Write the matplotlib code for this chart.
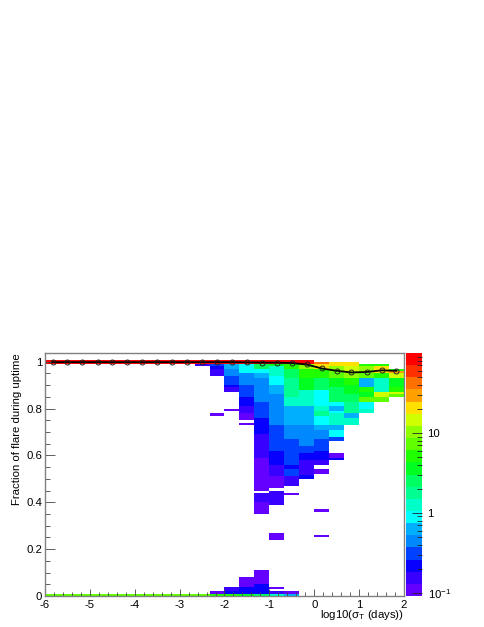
from matplotlib import pyplot as plt
from matplotlib.colors import ListedColormap, LogNorm
from matplotlib.ticker import MultipleLocator, FixedLocator, NullFormatter
import numpy as np

plt.rcParams['font.family'] = ['Liberation Sans', 'DejaVu Sans']
plt.rcParams['mathtext.default'] = 'regular'
plt.rcParams['axes.unicode_minus'] = False

# ROOT rainbow palette, 20 contours
palette = ['#6400ff', '#3800ff', '#0800ff', '#0040ff', '#0088ff', '#00b0ff', '#00ffff', '#00ffc8',
           '#00ff90', '#00ff60', '#00ff20', '#20ff00', '#60ff00', '#90ff00', '#d0ff00', '#ffe000',
           '#ffa000', '#ff7000', '#ff3000', '#ff0000']

# mean fraction vs log10(sigma_T)
profile_x = [-5.83, -5.5, -5.17, -4.83, -4.5, -4.17, -3.83, -3.5, -3.17, -2.83, -2.5, -2.17,
             -1.83, -1.5, -1.17, -0.83, -0.5, -0.17, 0.17, 0.5, 0.83, 1.17, 1.5, 1.83]
profile_y = [0.998, 0.998, 0.998, 0.998, 0.998, 0.998, 0.998, 0.998, 0.998, 0.998, 0.998, 0.998,
             0.998, 0.997, 0.996, 0.996, 0.994, 0.988, 0.971, 0.961, 0.954, 0.956, 0.963, 0.961]

# cells per column: (y high, y low, content), x bin width 1/3 from -6
col_10 = [(0.99, 0.98, 0.15)]
col_11 = [(0.99, 0.98, 0.31), (0.98, 0.97, 0.22), (0.97, 0.94, 0.15), (0.78, 0.77, 0.11),
          (0.02, 0.01, 0.11)]
col_12 = [(0.99, 0.97, 0.62), (0.97, 0.94, 0.43), (0.94, 0.90, 0.31), (0.90, 0.89, 0.22),
          (0.89, 0.87, 0.13), (0.80, 0.79, 0.11), (0.04, 0.02, 0.15), (0.02, 0.01, 0.25)]
col_13 = [(0.99, 0.95, 0.95), (0.95, 0.90, 0.43), (0.90, 0.85, 0.31), (0.85, 0.81, 0.22),
          (0.81, 0.78, 0.15), (0.78, 0.75, 0.11), (0.74, 0.73, 0.11), (0.08, 0.04, 0.11),
          (0.04, 0.01, 0.22)]
col_14 = [(0.99, 0.97, 2.5), (0.97, 0.95, 0.87), (0.95, 0.93, 0.62), (0.93, 0.88, 0.5),
          (0.88, 0.83, 0.43), (0.83, 0.76, 0.31), (0.76, 0.69, 0.22), (0.69, 0.65, 0.15),
          (0.65, 0.61, 0.15), (0.61, 0.59, 0.13), (0.59, 0.45, 0.12), (0.44, 0.40, 0.15),
          (0.40, 0.35, 0.11), (0.11, 0.05, 0.11), (0.05, 0.01, 0.22)]
col_15 = [(0.99, 0.98, 3.5), (0.98, 0.94, 1.2), (0.94, 0.90, 0.87), (0.90, 0.86, 0.62),
          (0.86, 0.79, 0.5), (0.79, 0.73, 0.43), (0.73, 0.67, 0.31), (0.67, 0.62, 0.31),
          (0.62, 0.56, 0.22), (0.56, 0.51, 0.15), (0.51, 0.46, 0.11), (0.45, 0.44, 0.15),
          (0.44, 0.39, 0.13), (0.27, 0.24, 0.11), (0.04, 0.03, 0.11), (0.02, 0.01, 0.15)]
col_16 = [(0.99, 0.97, 5.0), (0.97, 0.93, 2.5), (0.93, 0.85, 1.8), (0.85, 0.81, 1.2),
          (0.81, 0.78, 0.62), (0.78, 0.73, 0.62), (0.73, 0.67, 0.43), (0.67, 0.61, 0.31),
          (0.61, 0.56, 0.31), (0.56, 0.54, 0.22), (0.54, 0.51, 0.31), (0.51, 0.47, 0.13),
          (0.44, 0.43, 0.11), (0.02, 0.01, 0.11)]
col_17 = [(0.99, 0.97, 10), (0.97, 0.93, 5.0), (0.93, 0.88, 3.5), (0.88, 0.81, 1.2),
          (0.81, 0.79, 0.62), (0.79, 0.73, 0.62), (0.73, 0.70, 0.43), (0.70, 0.64, 0.37),
          (0.64, 0.61, 0.31), (0.61, 0.58, 0.22), (0.58, 0.54, 0.15), (0.54, 0.515, 0.15),
          (0.515, 0.50, 0.22)]
col_18 = [(1.0, 0.99, 40), (0.99, 0.97, 20), (0.97, 0.93, 5.0), (0.93, 0.88, 2.5),
          (0.88, 0.81, 0.95), (0.81, 0.79, 1.2), (0.79, 0.77, 1.8), (0.77, 0.73, 0.87),
          (0.73, 0.71, 0.62), (0.71, 0.67, 0.43), (0.67, 0.65, 0.31), (0.65, 0.62, 0.31),
          (0.62, 0.58, 0.25), (0.58, 0.56, 0.15), (0.54, 0.52, 0.11), (0.37, 0.36, 0.11),
          (0.26, 0.25, 0.11)]
col_19 = [(1.0, 0.98, 20), (0.98, 0.96, 10), (0.96, 0.93, 7.0), (0.93, 0.89, 3.5),
          (0.89, 0.83, 2.5), (0.83, 0.81, 0.87), (0.81, 0.79, 0.62), (0.79, 0.78, 0.87),
          (0.78, 0.73, 1.2), (0.73, 0.71, 0.62), (0.71, 0.68, 0.87), (0.68, 0.66, 0.31),
          (0.61, 0.59, 0.11), (0.59, 0.58, 0.22)]
col_20 = [(1.0, 0.98, 20), (0.98, 0.96, 14), (0.96, 0.93, 10), (0.93, 0.90, 5.0),
          (0.90, 0.86, 3.5), (0.86, 0.83, 2.5), (0.83, 0.80, 1.8), (0.80, 0.78, 1.8),
          (0.78, 0.76, 0.62), (0.76, 0.73, 1.2)]
col_21 = [(0.99, 0.98, 5.0), (0.98, 0.95, 10), (0.95, 0.93, 7.0), (0.93, 0.89, 0.62),
          (0.89, 0.87, 5.0), (0.87, 0.85, 3.5), (0.85, 0.83, 7.0), (0.83, 0.80, 0.87),
          (0.80, 0.78, 1.2)]
col_22 = [(0.99, 0.98, 5.0), (0.98, 0.95, 20), (0.95, 0.93, 5.0), (0.93, 0.87, 1.2),
          (0.87, 0.85, 14), (0.85, 0.83, 7.0)]
col_23 = [(0.97, 0.96, 5.0), (0.96, 0.95, 28), (0.95, 0.93, 14), (0.93, 0.89, 3.5),
          (0.89, 0.87, 5.0), (0.87, 0.86, 14), (0.86, 0.85, 7.0)]
columns = {10: col_10, 11: col_11, 12: col_12, 13: col_13, 14: col_14, 15: col_15, 16: col_16,
           17: col_17, 18: col_18, 19: col_19, 20: col_20, 21: col_21, 22: col_22, 23: col_23}

# the two rows filled along the whole axis
top_row = [81] * 18
bottom_row = [7] * 11 + [5, 4.5, 3.5, 2.5, 1.2, 0.7]

x_edges = np.linspace(-6, 2, 25)
y_edges = np.arange(0, 1.0151, 0.005)
H = np.full((len(y_edges) - 1, 24), np.nan)
for i, v in enumerate(top_row):
    H[198:201, i] = v
for i, v in enumerate(bottom_row):
    H[0:2, i] = v
for i, cells in columns.items():
    for hi, lo, v in cells:
        H[int(round(lo / 0.005)):int(round(hi / 0.005)), i] = v

fig = plt.figure(figsize=(4.85, 6.27), dpi=100)
ax = fig.add_axes([45 / 485, 1 - 596 / 627, 359 / 485, 243 / 627])
cax = fig.add_axes([406 / 485, 1 - 596 / 627, 16 / 485, 243 / 627])

norm = LogNorm(vmin=0.091, vmax=100)
mesh = ax.pcolormesh(x_edges, y_edges, H, cmap=ListedColormap(palette), norm=norm, linewidth=0)
ax.plot(profile_x, profile_y, '-', color='black', linewidth=1.3)
ax.plot(profile_x, profile_y, 'o', mfc='none', mec='#222222', mew=0.7, ms=3.6)

ax.set_xlim(-6, 2)
ax.set_ylim(0, 1.037)
ax.xaxis.set_major_locator(MultipleLocator(1))
ax.xaxis.set_minor_locator(MultipleLocator(0.2))
ax.yaxis.set_major_locator(MultipleLocator(0.2))
ax.yaxis.set_minor_locator(MultipleLocator(0.05))
ax.set_yticks([0, 0.2, 0.4, 0.6, 0.8, 1], ['0', '0.2', '0.4', '0.6', '0.8', '1'])
ax.tick_params(axis='x', which='major', direction='in', length=5.4, width=0.6, color='#444444', labelsize=8.2, pad=2.8)
ax.tick_params(axis='x', which='minor', direction='in', length=2.7, width=0.6, color='#444444')
ax.tick_params(axis='y', which='major', direction='in', length=7.5, width=0.6, color='#444444', labelsize=8.2, pad=2)
ax.tick_params(axis='y', which='minor', direction='in', length=3.8, width=0.6, color='#444444')
for s in ax.spines.values():
    s.set_color('#808080')
    s.set_linewidth(1.0)

ax.set_xlabel(r'log10($\sigma_{T}$ (days))', fontsize=8.2, loc='right', labelpad=-1)
ax.set_ylabel('Fraction of flare during uptime', fontsize=8.2, loc='top')
ax.yaxis.set_label_coords(-0.064, 1.0)

cbar = fig.colorbar(mesh, cax=cax)
cbar.outline.set_visible(False)
cax.yaxis.set_major_locator(FixedLocator([0.1, 1, 10]))
cax.set_yticklabels(['$10^{-1}$', '1', '10'])
cax.yaxis.set_minor_locator(FixedLocator([m * 10.0 ** e for e in [-1, 0, 1] for m in range(2, 10)]))
cax.yaxis.set_minor_formatter(NullFormatter())
cax.tick_params(axis='y', which='major', direction='in', length=7.5, width=0.6, color='#222222', labelsize=8.2, pad=4)
cax.tick_params(axis='y', which='minor', direction='in', length=3.8, width=0.6, color='#222222')

plt.savefig('out.png', dpi=100)
